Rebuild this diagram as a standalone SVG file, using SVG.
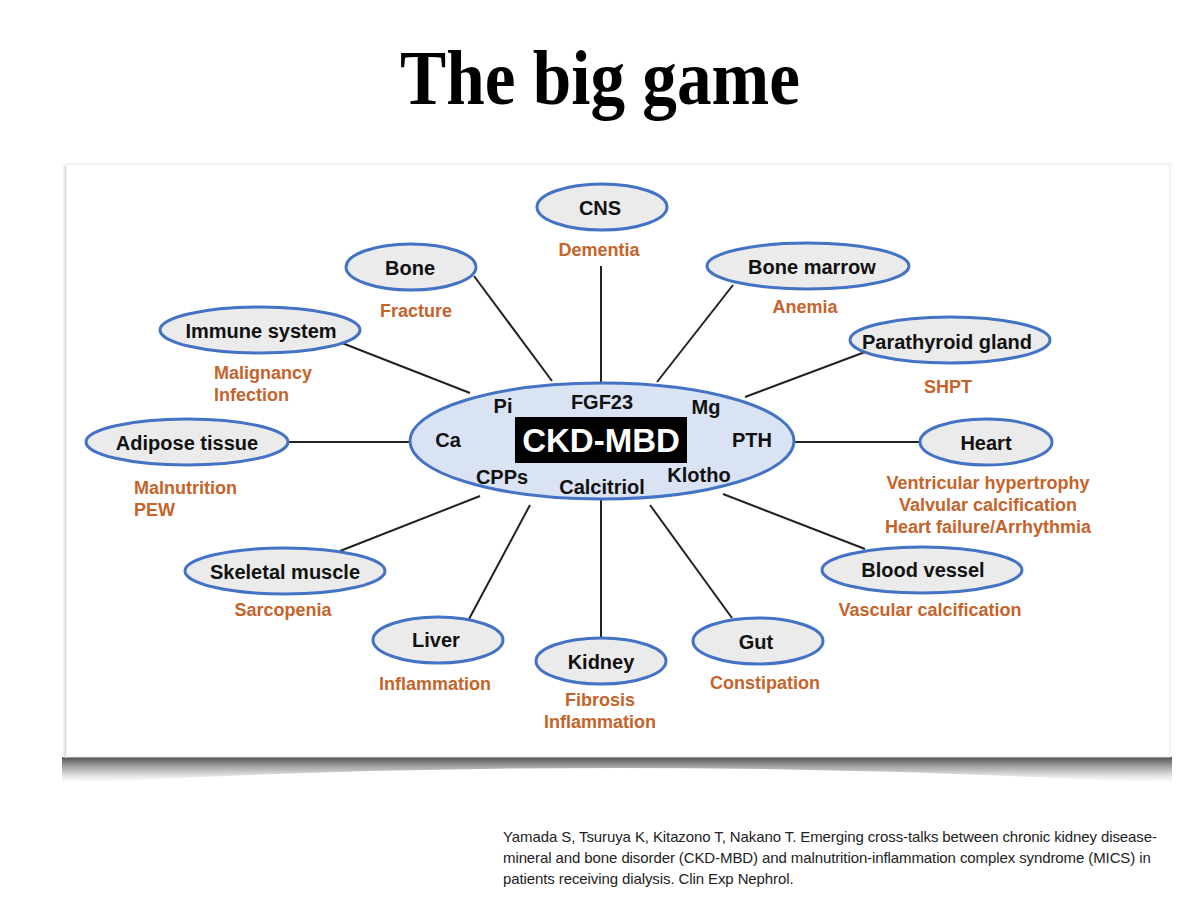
<svg xmlns="http://www.w3.org/2000/svg" width="1200" height="899" viewBox="0 0 1200 899">
<defs>
<linearGradient id="sh" x1="0" y1="0" x2="0" y2="1">
<stop offset="0" stop-color="#3a3a3a" stop-opacity="0.9"/>
<stop offset="0.5" stop-color="#888" stop-opacity="0.55"/>
<stop offset="1" stop-color="#ddd" stop-opacity="0"/>
</linearGradient>
<linearGradient id="shl" x1="0" y1="0" x2="1" y2="0">
<stop offset="0" stop-color="#fff" stop-opacity="0"/>
<stop offset="1" stop-color="#b5b5b5"/>
</linearGradient>
</defs>
<style>
.node ellipse{fill:#ebebeb;stroke:#4472c4;stroke-width:3}
.nt{font-family:"Liberation Sans",Arial,sans-serif;font-weight:bold;font-size:20px;fill:#111;text-anchor:middle}
.lb{font-family:"Liberation Sans",Arial,sans-serif;font-weight:bold;font-size:18px;fill:#c5632b;text-anchor:middle}
.lbl{font-family:"Liberation Sans",Arial,sans-serif;font-weight:bold;font-size:18px;fill:#c5632b}
.it{font-family:"Liberation Sans",Arial,sans-serif;font-weight:bold;font-size:20px;fill:#111;text-anchor:middle}
.cite{font-family:"Liberation Sans",Arial,sans-serif;font-size:15px;fill:#222;letter-spacing:-0.1px}
#connectors line{stroke:#222;stroke-width:2}
</style>
<rect width="1200" height="899" fill="#fff"/>
<text x="600" y="104" text-anchor="middle" font-family="'Liberation Serif','Times New Roman',serif" font-weight="bold" font-size="78" textLength="400" lengthAdjust="spacingAndGlyphs" fill="#000">The big game</text>
<path d="M62,757 L1172,757 L1172,784 Q618,752 62,784 Z" fill="url(#sh)"/>
<rect x="61" y="166" width="6" height="592" fill="url(#shl)"/>
<rect x="66" y="164" width="1104" height="593" fill="#fff" stroke="#e6e6e6" stroke-width="1"/>
<g id="connectors">
<line x1="601" y1="266" x2="601" y2="383"/>
<line x1="474" y1="276" x2="552" y2="381"/>
<line x1="733" y1="285" x2="657" y2="382"/>
<line x1="865" y1="352" x2="745" y2="397"/>
<line x1="342" y1="343" x2="470" y2="393"/>
<line x1="287" y1="442" x2="410" y2="442"/>
<line x1="794" y1="442" x2="920" y2="442"/>
<line x1="340" y1="551" x2="480" y2="496"/>
<line x1="865" y1="549" x2="723" y2="494"/>
<line x1="469" y1="619" x2="530" y2="505"/>
<line x1="601" y1="638" x2="601" y2="499"/>
<line x1="732" y1="618" x2="650" y2="505"/>
</g>
<g id="center">
<ellipse cx="602" cy="441" rx="192" ry="58" fill="#dae3f3" stroke="#4472c4" stroke-width="3"/>
<rect x="515" y="417" width="172" height="46" fill="#000"/>
<text x="601" y="452" text-anchor="middle" font-family="'Liberation Sans',Arial,sans-serif" font-weight="bold" font-size="33" fill="#fff">CKD-MBD</text>
<text class="it" x="503" y="413">Pi</text>
<text class="it" x="602" y="409">FGF23</text>
<text class="it" x="706" y="414">Mg</text>
<text class="it" x="448" y="447">Ca</text>
<text class="it" x="752" y="447">PTH</text>
<text class="it" x="502" y="484">CPPs</text>
<text class="it" x="602" y="494">Calcitriol</text>
<text class="it" x="699" y="482">Klotho</text>
</g>
<g id="cns" class="node"><ellipse cx="602" cy="207" rx="65" ry="23"/><text class="nt" x="600" y="215">CNS</text><text class="lb" x="599" y="256">Dementia</text></g>
<g id="bone" class="node"><ellipse cx="411" cy="267" rx="65" ry="23"/><text class="nt" x="410" y="275">Bone</text><text class="lb" x="416" y="317">Fracture</text></g>
<g id="bonemarrow" class="node"><ellipse cx="808" cy="266" rx="101" ry="23"/><text class="nt" x="812" y="274">Bone marrow</text><text class="lb" x="805" y="313">Anemia</text></g>
<g id="parathyroid" class="node"><ellipse cx="950" cy="340" rx="100" ry="23"/><text class="nt" x="947" y="349">Parathyroid gland</text><text class="lb" x="948" y="393">SHPT</text></g>
<g id="immune" class="node"><ellipse cx="260" cy="330" rx="100" ry="23"/><text class="nt" x="261" y="338">Immune system</text><text class="lbl" x="214" y="379">Malignancy</text><text class="lbl" x="214" y="401">Infection</text></g>
<g id="adipose" class="node"><ellipse cx="187" cy="442" rx="101" ry="23"/><text class="nt" x="187" y="450">Adipose tissue</text><text class="lbl" x="134" y="494">Malnutrition</text><text class="lbl" x="134" y="516">PEW</text></g>
<g id="heart" class="node"><ellipse cx="986" cy="442" rx="66" ry="23"/><text class="nt" x="986" y="450">Heart</text><text class="lb" x="988" y="489">Ventricular hypertrophy</text><text class="lb" x="988" y="511">Valvular calcification</text><text class="lb" x="988" y="533">Heart failure/Arrhythmia</text></g>
<g id="skeletal" class="node"><ellipse cx="285" cy="571" rx="100" ry="23"/><text class="nt" x="285" y="579">Skeletal muscle</text><text class="lb" x="283" y="616">Sarcopenia</text></g>
<g id="bloodvessel" class="node"><ellipse cx="922" cy="570" rx="100" ry="23"/><text class="nt" x="923" y="577">Blood vessel</text><text class="lb" x="930" y="616">Vascular calcification</text></g>
<g id="liver" class="node"><ellipse cx="438" cy="640" rx="65" ry="23"/><text class="nt" x="436" y="647">Liver</text><text class="lb" x="435" y="690">Inflammation</text></g>
<g id="kidney" class="node"><ellipse cx="601" cy="661" rx="65" ry="23"/><text class="nt" x="601" y="669">Kidney</text><text class="lb" x="600" y="706">Fibrosis</text><text class="lb" x="600" y="728">Inflammation</text></g>
<g id="gut" class="node"><ellipse cx="758" cy="641" rx="65" ry="23"/><text class="nt" x="756" y="649">Gut</text><text class="lb" x="765" y="689">Constipation</text></g>
<text class="cite" x="503" y="842">Yamada S, Tsuruya K, Kitazono T, Nakano T. Emerging cross-talks between chronic kidney disease-</text>
<text class="cite" x="503" y="863">mineral and bone disorder (CKD-MBD) and malnutrition-inflammation complex syndrome (MICS) in</text>
<text class="cite" x="503" y="884">patients receiving dialysis. Clin Exp Nephrol.</text>
</svg>
